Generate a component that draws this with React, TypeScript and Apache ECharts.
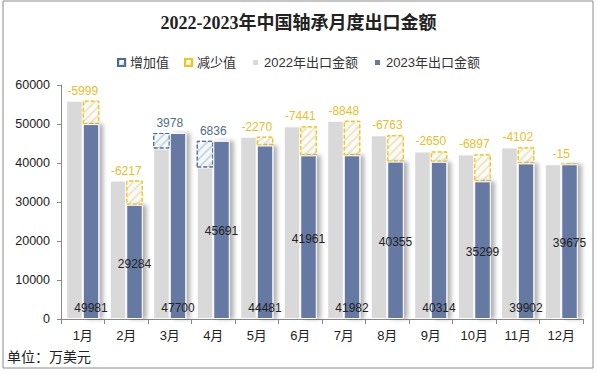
import React, { useEffect, useRef } from "react";
import * as echarts from "echarts";

const months = ["1月", "2月", "3月", "4月", "5月", "6月", "7月", "8月", "9月", "10月", "11月", "12月"];
const exports2022 = [55980, 35501, 43722, 38855, 46751, 49402, 50830, 47118, 42964, 42196, 44004, 39690];
const exports2023 = [49981, 29284, 47700, 45691, 44481, 41961, 41982, 40355, 40314, 35299, 39902, 39675];
const changes = [-5999, -6217, 3978, 6836, -2270, -7441, -8848, -6763, -2650, -6897, -4102, -15];
const yMin = 0;
const yMax = 60000;
const yStep = 10000;

// label placement (px lift above the bar bottom) for the 2023 value labels
const labelLift = [0, 44, 0, 77, 0, 69, 0, 66, 0, 56, 0, 65];

const SANS = '"Liberation Sans", Arial, "Noto Sans CJK SC", sans-serif';

export default function App() {
  const ref = useRef<HTMLDivElement>(null);
  useEffect(() => {
    if (!ref.current) return;
    const chart = echarts.init(ref.current, null, { renderer: "svg" });
    const increases = changes.map((c) => (c > 0 ? c : null));
    const decreases = changes.map((c) => (c < 0 ? -c : null));
    const half = 8.25;
    chart.setOption({
      animation: false,
      backgroundColor: "#ffffff",
      title: {
        text: "2022-2023年中国轴承月度出口金额",
        left: "center",
        top: 9,
        textStyle: {
          fontFamily: '"Liberation Serif", "Times New Roman", "Noto Sans CJK SC", serif',
          fontWeight: "bold",
          fontSize: 18,
          color: "#222",
        },
      },
      legend: {
        data: [
          { name: "增加值", icon: "rect" },
          { name: "减少值", icon: "rect" },
          { name: "2022年出口金额", icon: "rect" },
          { name: "2023年出口金额", icon: "rect" },
        ],
        top: 51,
        left: "center",
        itemWidth: 7,
        itemHeight: 7,
        itemGap: 15,
        textStyle: { fontFamily: SANS, fontSize: 13, color: "#333" },
      },
      grid: { left: 61, right: 14, top: 85, bottom: 55 },
      xAxis: {
        type: "category",
        data: months,
        axisLine: { lineStyle: { color: "#888" } },
        axisTick: { show: true, length: 5, lineStyle: { color: "#888" } },
        axisLabel: { fontFamily: SANS, fontSize: 13, color: "#222", margin: 10 },
      },
      yAxis: {
        type: "value",
        min: yMin,
        max: yMax,
        interval: yStep,
        axisLine: { show: true, lineStyle: { color: "#888" } },
        axisTick: { show: true, length: 4, lineStyle: { color: "#888" } },
        splitLine: { show: false },
        axisLabel: {
          fontFamily: SANS,
          fontSize: 12.5,
          color: "#222",
          margin: 11,
          formatter: (v: number) => String(v),
        },
      },
      graphic: [
        {
          type: "rect",
          shape: { x: 3, y: 1, width: 590, height: 367 },
          style: { fill: "none", stroke: "#8a8a8a", lineWidth: 1 },
          silent: true,
        },
        {
          type: "text",
          left: 7,
          top: 350,
          style: { text: "单位：万美元", fontFamily: SANS, fontSize: 14, fill: "#222" },
        },
      ],
      series: [
        {
          name: "2022年出口金额",
          type: "bar",
          stack: "a",
          data: exports2022,
          barGap: "0%",
          barCategoryGap: "24%",
          itemStyle: { color: "#d9d9d9", borderColor: "#fff", borderWidth: 1 },
        },
        {
          name: "2023年出口金额",
          type: "bar",
          stack: "b",
          data: exports2023.map((v, i) => ({
            value: v,
            label: { offset: [0, -labelLift[i]] },
          })),
          itemStyle: {
            color: "#6579a3",
            borderColor: "#fff",
            borderWidth: 1,
            shadowColor: "rgba(0,0,0,0.3)",
            shadowBlur: 4,
            shadowOffsetX: 4,
          },
          label: {
            show: true,
            position: "insideBottom",
            distance: 5,
            fontFamily: SANS,
            fontSize: 12,
            color: "#222",
          },
          z: 3,
        },
        {
          name: "增加值",
          type: "bar",
          stack: "a",
          data: increases,
          itemStyle: {
            color: "#f5f8fa",
            borderColor: "#4e6d8c",
            borderWidth: 1,
            borderType: "dashed",
            decal: {
              symbol: "rect",
              symbolSize: 1,
              color: "rgba(190,208,222,0.8)",
              dashArrayX: [1, 0],
              dashArrayY: [2, 4],
              rotation: -Math.PI / 4,
            },
          },
          label: {
            show: true,
            position: "top",
            distance: 4,
            offset: [half, 0],
            fontFamily: SANS,
            fontSize: 12,
            color: "#4e6d8c",
            formatter: (p: any) => String(changes[p.dataIndex]),
          },
        },
        {
          name: "减少值",
          type: "bar",
          stack: "b",
          data: decreases,
          itemStyle: {
            color: "#fcfbf3",
            borderColor: "#f0c419",
            borderWidth: 1,
            borderType: "dashed",
            decal: {
              symbol: "rect",
              symbolSize: 1,
              color: "rgba(232,225,196,0.8)",
              dashArrayX: [1, 0],
              dashArrayY: [2, 4],
              rotation: -Math.PI / 4,
            },
          },
          label: {
            show: true,
            position: "top",
            distance: 4,
            offset: [-half, 0],
            fontFamily: SANS,
            fontSize: 12,
            color: "#e8be2a",
            formatter: (p: any) => String(changes[p.dataIndex]),
          },
        },
      ],
    });
    return () => chart.dispose();
  }, []);
  return (
    <div
      ref={ref}
      style={{ position: "fixed", left: 0, top: 0, width: 597, height: 374 }}
    />
  );
}
